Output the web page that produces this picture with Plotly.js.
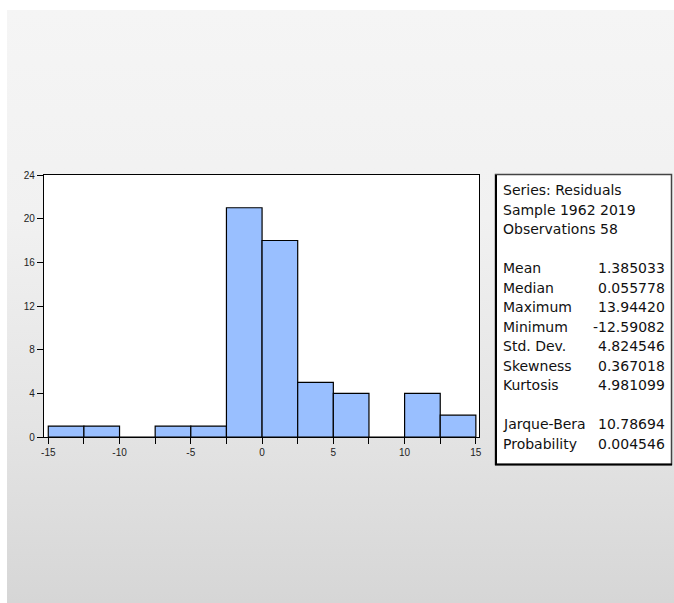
<!DOCTYPE html>
<html>
<head>
<meta charset="utf-8">
<script src="https://cdn.plot.ly/plotly-3.0.1.min.js"></script>
<style>
  html, body { margin: 0; padding: 0; background: #ffffff; }
  #bg { position: absolute; left: 7px; top: 10px; width: 667px; height: 593px;
        background: linear-gradient(to bottom, #f5f5f5 0%, #f1f1f1 35%, #e4e4e4 70%, #d6d6d6 100%); }
  #chart { position: absolute; left: 0; top: 0; width: 674px; height: 603px; }
</style>
</head>
<body>
<div id="bg"></div>
<div id="chart"></div>
<script>
// Histogram bins (bin width 2.5)
const binStarts = [-15, -12.5, -10, -7.5, -5, -2.5, 0, 2.5, 5, 7.5, 10, 12.5];
const counts    = [1, 1, 0, 1, 1, 21, 18, 5, 4, 0, 4, 2];
const binWidth = 2.5;

const xTickVals = [-15, -12.5, -10, -7.5, -5, -2.5, 0, 2.5, 5, 7.5, 10, 12.5, 15];
const xTickText = ['-15', '', '-10', '', '-5', '', '0', '', '5', '', '10', '', '15'];
const yTickVals = [0, 4, 8, 12, 16, 20, 24];

// Statistics panel
const headerLines = ['Series: Residuals', 'Sample 1962 2019', 'Observations 58'];
const statNames  = ['Mean', 'Median', 'Maximum', 'Minimum', 'Std. Dev.', 'Skewness', 'Kurtosis'];
const statValues = ['1.385033', '0.055778', '13.94420', '-12.59082', '4.824546', '0.367018', '4.981099'];
const testNames  = ['Jarque-Bera', 'Probability'];
const testValues = ['10.78694', '0.004546'];

// Plot-area geometry in pixels
const L = 44, R = 479, T = 175, B = 437;
const W = 674, H = 603;
const px = v => (v - L) / (R - L);
const py = v => (B - v) / (B - T);

const centers = binStarts.map(s => s + binWidth / 2);

const trace = {
  type: 'bar',
  x: centers,
  y: counts,
  width: binWidth,
  marker: { color: '#99bfff', line: { color: '#000000', width: 1.2 } },
  hoverinfo: 'x+y'
};

const textFont = { family: 'DejaVu Sans, Verdana, sans-serif', size: 14, color: '#111111' };
const annotations = [];
const lineY = i => 190 + 19.5 * i;
headerLines.forEach((t, i) => {
  annotations.push({ xref: 'paper', yref: 'paper', x: px(501), y: py(lineY(i)), xanchor: 'left', yanchor: 'middle', text: t, showarrow: false, font: textFont });
});
statNames.forEach((t, i) => {
  annotations.push({ xref: 'paper', yref: 'paper', x: px(501), y: py(lineY(4 + i)), xanchor: 'left', yanchor: 'middle', text: t, showarrow: false, font: textFont });
  annotations.push({ xref: 'paper', yref: 'paper', x: px(667), y: py(lineY(4 + i)), xanchor: 'right', yanchor: 'middle', text: statValues[i], showarrow: false, font: textFont });
});
testNames.forEach((t, i) => {
  annotations.push({ xref: 'paper', yref: 'paper', x: px(501), y: py(lineY(12 + i)), xanchor: 'left', yanchor: 'middle', text: t, showarrow: false, font: textFont });
  annotations.push({ xref: 'paper', yref: 'paper', x: px(667), y: py(lineY(12 + i)), xanchor: 'right', yanchor: 'middle', text: testValues[i], showarrow: false, font: textFont });
});

const shapes = [
  { type: 'rect', xref: 'paper', yref: 'paper', x0: px(495.5), x1: px(671.5), y0: py(464.5), y1: py(174.5),
    fillcolor: '#ffffff', line: { color: '#444444', width: 1.5 }, layer: 'below' },
  { type: 'line', xref: 'paper', yref: 'paper', x0: px(496), x1: px(496), y0: py(465), y1: py(175),
    line: { color: '#000000', width: 2 } },
  { type: 'line', xref: 'paper', yref: 'paper', x0: px(495), x1: px(672), y0: py(464.5), y1: py(464.5),
    line: { color: '#000000', width: 2 } }
];

const tickFont = { family: 'Liberation Sans, Arial, sans-serif', size: 10, color: '#222222' };

const layout = {
  width: W, height: H,
  margin: { l: L, r: W - R, t: T, b: H - B, pad: 0 },
  paper_bgcolor: 'rgba(0,0,0,0)',
  plot_bgcolor: '#ffffff',
  showlegend: false,
  bargap: 0,
  xaxis: {
    range: [-15.3, 15.22],
    tickmode: 'array', tickvals: xTickVals, ticktext: xTickText,
    ticks: 'outside', ticklen: 6, tickwidth: 1, tickcolor: '#000000',
    showgrid: false, zeroline: false,
    showline: true, linecolor: '#000000', linewidth: 1.2, mirror: true,
    tickfont: tickFont
  },
  yaxis: {
    range: [0, 24],
    tickmode: 'array', tickvals: yTickVals,
    ticks: 'outside', ticklen: 6, tickwidth: 1, tickcolor: '#000000',
    showgrid: false, zeroline: false,
    showline: true, linecolor: '#000000', linewidth: 1.2, mirror: true,
    tickfont: tickFont
  },
  shapes: shapes,
  annotations: annotations
};

Plotly.newPlot('chart', [trace], layout, { displayModeBar: false, staticPlot: true });
</script>
</body>
</html>
